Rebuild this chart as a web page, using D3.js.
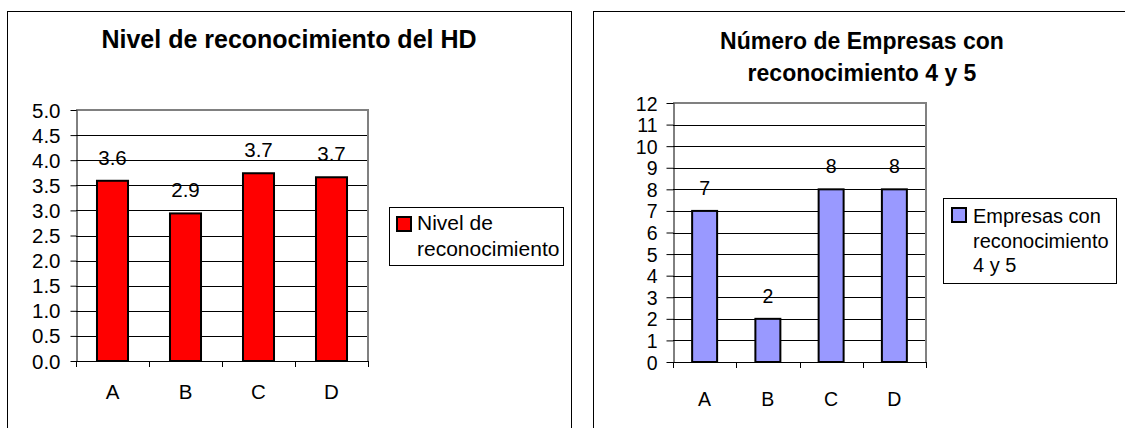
<!DOCTYPE html>
<html>
<head>
<meta charset="utf-8">
<script src="https://cdn.jsdelivr.net/npm/d3@7"></script>
<style>
  body { margin: 0; background: #fff; }
  svg { display: block; font-family: "Liberation Sans", Arial, sans-serif; }
</style>
</head>
<body>
<svg id="chart" width="1125" height="428"></svg>
<script>
const categories = ['A', 'B', 'C', 'D']

const nivelValues = [3.59, 2.94, 3.74, 3.66]
const nivelTicks = [0, 0.5, 1, 1.5, 2, 2.5, 3, 3.5, 4, 4.5, 5]
const nivelTitle = ['Nivel de reconocimiento del HD']
const nivelLegend = ['Nivel de', 'reconocimiento']

const empresasValues = [7, 2, 8, 8]
const empresasTicks = [0, 1, 2, 3, 4, 5, 6, 7, 8, 9, 10, 11, 12]
const empresasTitle = ['Número de Empresas con', 'reconocimiento 4 y 5']
const empresasLegend = ['Empresas con', 'reconocimiento', '4 y 5']

const svg = d3.select('#chart')

drawChart({
  frame: [7.5, 11.5, 564, 440],
  title: nivelTitle, titleX: 289, titleY: 48, titleSize: 25, titleGap: 32,
  plot: [76, 110, 368, 361],
  values: nivelValues, ticks: nivelTicks, fmt: d3.format('.1f'),
  barRatio: 0.425, color: '#ff0000',
  fontSize: 20.5, tickSize: 6, tickPad: 10, tickDy: 7, xLabelY: 399, labelGap: 16,
  legend: nivelLegend, legendBox: [389.5, 207.5, 174, 58], swatch: [397, 217],
  legendX: 417, legendY: 230, legendGap: 26, legendSize: 21
})

drawChart({
  frame: [593.5, 11.5, 560, 440],
  title: empresasTitle, titleX: 862, titleY: 49, titleSize: 23, titleGap: 32,
  plot: [673, 103, 926, 362],
  values: empresasValues, ticks: empresasTicks, fmt: d3.format('d'),
  barRatio: 0.395, color: '#9999ff',
  fontSize: 19.5, tickSize: 7, tickPad: 9, tickDy: 7, xLabelY: 406, labelGap: 16,
  legend: empresasLegend, legendBox: [943.5, 198.5, 173, 85], swatch: [952, 208],
  legendX: 973, legendY: 223, legendGap: 24.5, legendSize: 20
})

function drawChart (c) {
  const g = svg.append('g')
  const [x0, y0, x1, y1] = c.plot

  // outer chart frame
  g.append('rect')
    .attr('x', c.frame[0]).attr('y', c.frame[1])
    .attr('width', c.frame[2]).attr('height', c.frame[3])
    .attr('fill', '#fff').attr('stroke', '#000')

  g.selectAll('.title').data(c.title).join('text')
    .attr('class', 'title')
    .attr('x', c.titleX)
    .attr('y', (d, i) => c.titleY + i * c.titleGap)
    .attr('text-anchor', 'middle')
    .attr('font-size', c.titleSize)
    .attr('font-weight', 'bold')
    .text(d => d)

  const x = d3.scaleBand().domain(categories).range([x0, x1]).padding(0)
  const y = d3.scaleLinear().domain([0, d3.max(c.ticks)]).range([y1, y0])

  // gridlines
  g.selectAll('.grid').data(c.ticks.slice(1, -1)).join('line')
    .attr('class', 'grid')
    .attr('x1', x0).attr('x2', x1)
    .attr('y1', d => Math.round(y(d)) + 0.5).attr('y2', d => Math.round(y(d)) + 0.5)
    .attr('stroke', '#000')

  // plot area border (grey top and right)
  g.append('path')
    .attr('d', `M${x0},${y0}H${x1}V${y1}`)
    .attr('fill', 'none').attr('stroke', '#808080').attr('stroke-width', 2)

  const barW = x.bandwidth() * c.barRatio
  g.selectAll('.bar').data(c.values).join('rect')
    .attr('class', 'bar')
    .attr('x', (d, i) => x(categories[i]) + (x.bandwidth() - barW) / 2)
    .attr('y', d => y(d))
    .attr('width', barW)
    .attr('height', d => y(0) - y(d))
    .attr('fill', c.color)
    .attr('stroke', '#000').attr('stroke-width', 2)

  g.selectAll('.val').data(c.values).join('text')
    .attr('class', 'val')
    .attr('x', (d, i) => x(categories[i]) + x.bandwidth() / 2)
    .attr('y', d => y(d) - c.labelGap)
    .attr('text-anchor', 'middle')
    .attr('font-size', c.fontSize)
    .text(d => c.fmt(d))

  // y axis
  const yAxis = g.append('g')
    .attr('transform', `translate(${x0 + 0.5},0)`)
    .call(d3.axisLeft(y).tickValues(c.ticks).tickFormat(c.fmt)
      .tickSize(c.tickSize).tickPadding(c.tickPad).tickSizeOuter(0))
  yAxis.selectAll('text').attr('font-size', c.fontSize).attr('dy', null)
    .attr('y', c.tickDy).attr('fill', '#000').attr('font-family', null)
  yAxis.selectAll('line, path').attr('stroke', '#000')

  // x axis with ticks at category boundaries
  g.append('line')
    .attr('x1', x0).attr('x2', x1)
    .attr('y1', y1 + 0.5).attr('y2', y1 + 0.5)
    .attr('stroke', '#000')
  g.selectAll('.xtick').data(d3.range(categories.length + 1)).join('line')
    .attr('class', 'xtick')
    .attr('x1', i => Math.round(x0 + i * x.step()) + 0.5)
    .attr('x2', i => Math.round(x0 + i * x.step()) + 0.5)
    .attr('y1', y1).attr('y2', y1 + 6)
    .attr('stroke', '#000')
  g.selectAll('.xlab').data(categories).join('text')
    .attr('class', 'xlab')
    .attr('x', d => x(d) + x.bandwidth() / 2)
    .attr('y', c.xLabelY)
    .attr('text-anchor', 'middle')
    .attr('font-size', c.fontSize)
    .text(d => d)

  // legend
  g.append('rect')
    .attr('x', c.legendBox[0]).attr('y', c.legendBox[1])
    .attr('width', c.legendBox[2]).attr('height', c.legendBox[3])
    .attr('fill', '#fff').attr('stroke', '#000')
  g.append('rect')
    .attr('x', c.swatch[0]).attr('y', c.swatch[1])
    .attr('width', 14).attr('height', 14)
    .attr('fill', c.color).attr('stroke', '#000').attr('stroke-width', 2)
  g.selectAll('.leg').data(c.legend).join('text')
    .attr('class', 'leg')
    .attr('x', c.legendX)
    .attr('y', (d, i) => c.legendY + i * c.legendGap)
    .attr('font-size', c.legendSize)
    .text(d => d)
}
</script>
</body>
</html>
